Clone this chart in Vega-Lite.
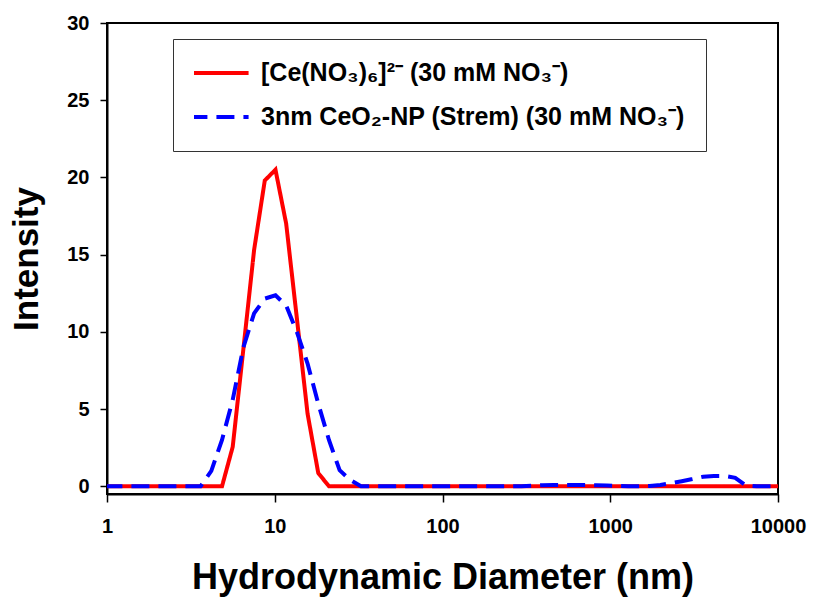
{
  "$schema": "https://vega.github.io/schema/vega-lite/v6.json",
  "width": 671,
  "height": 471,
  "autosize": {"type": "none"},
  "padding": {"left": 107, "top": 23, "right": 36, "bottom": 105},
  "background": "white",
  "config": {
    "font": "Liberation Sans",
    "view": {"stroke": "black", "strokeWidth": 2}
  },
  "datasets": {
    "ce": [
      {"d": 0.9649, "v": 0}, {"d": 1.117, "v": 0}, {"d": 1.294, "v": 0}, {"d": 1.499, "v": 0},
      {"d": 1.736, "v": 0}, {"d": 2.01, "v": 0}, {"d": 2.328, "v": 0}, {"d": 2.696, "v": 0},
      {"d": 3.122, "v": 0}, {"d": 3.615, "v": 0}, {"d": 4.187, "v": 0}, {"d": 4.849, "v": 0},
      {"d": 5.615, "v": 2.55}, {"d": 6.503, "v": 8.9}, {"d": 7.531, "v": 15.3}, {"d": 8.721, "v": 19.8},
      {"d": 10.1, "v": 20.5}, {"d": 11.7, "v": 17.0}, {"d": 13.54, "v": 10.9}, {"d": 15.69, "v": 4.7},
      {"d": 18.17, "v": 0.86}, {"d": 21.04, "v": 0}, {"d": 24.36, "v": 0}, {"d": 28.21, "v": 0},
      {"d": 32.67, "v": 0}, {"d": 37.84, "v": 0}, {"d": 43.82, "v": 0}, {"d": 50.75, "v": 0},
      {"d": 58.77, "v": 0}, {"d": 68.06, "v": 0}, {"d": 78.82, "v": 0}, {"d": 91.28, "v": 0},
      {"d": 105.7, "v": 0}, {"d": 122.4, "v": 0}, {"d": 141.8, "v": 0}, {"d": 164.2, "v": 0},
      {"d": 190.1, "v": 0}, {"d": 220.2, "v": 0}, {"d": 255, "v": 0}, {"d": 295.3, "v": 0},
      {"d": 342, "v": 0}, {"d": 396.1, "v": 0}, {"d": 458.7, "v": 0}, {"d": 531.2, "v": 0},
      {"d": 615.1, "v": 0}, {"d": 712.4, "v": 0}, {"d": 825, "v": 0}, {"d": 955.4, "v": 0},
      {"d": 1106, "v": 0}, {"d": 1281, "v": 0}, {"d": 1484, "v": 0}, {"d": 1718, "v": 0},
      {"d": 1990, "v": 0}, {"d": 2305, "v": 0}, {"d": 2669, "v": 0}, {"d": 3091, "v": 0},
      {"d": 3580, "v": 0}, {"d": 4145, "v": 0}, {"d": 4801, "v": 0}, {"d": 5560, "v": 0},
      {"d": 6439, "v": 0}, {"d": 7456, "v": 0}, {"d": 8635, "v": 0}, {"d": 10000, "v": 0}
    ],
    "np": [
      {"d": 0.9649, "v": 0}, {"d": 1.117, "v": 0}, {"d": 1.294, "v": 0}, {"d": 1.499, "v": 0},
      {"d": 1.736, "v": 0}, {"d": 2.01, "v": 0}, {"d": 2.328, "v": 0}, {"d": 2.696, "v": 0},
      {"d": 3.122, "v": 0}, {"d": 3.615, "v": 0}, {"d": 4.187, "v": 1.0}, {"d": 4.849, "v": 3.0},
      {"d": 5.615, "v": 5.6}, {"d": 6.503, "v": 9.0}, {"d": 7.531, "v": 11.2}, {"d": 8.721, "v": 12.15},
      {"d": 10.1, "v": 12.37}, {"d": 11.7, "v": 11.7}, {"d": 13.54, "v": 10.0}, {"d": 15.69, "v": 7.95},
      {"d": 18.17, "v": 5.35}, {"d": 21.04, "v": 3.0}, {"d": 24.36, "v": 1.04}, {"d": 28.21, "v": 0.4},
      {"d": 32.67, "v": 0}, {"d": 37.84, "v": 0}, {"d": 43.82, "v": 0}, {"d": 50.75, "v": 0},
      {"d": 58.77, "v": 0}, {"d": 68.06, "v": 0}, {"d": 78.82, "v": 0}, {"d": 91.28, "v": 0},
      {"d": 105.7, "v": 0}, {"d": 122.4, "v": 0}, {"d": 141.8, "v": 0}, {"d": 164.2, "v": 0},
      {"d": 190.1, "v": 0}, {"d": 220.2, "v": 0}, {"d": 255, "v": 0}, {"d": 295.3, "v": 0},
      {"d": 342, "v": 0.03}, {"d": 396.1, "v": 0.07}, {"d": 458.7, "v": 0.08}, {"d": 531.2, "v": 0.08},
      {"d": 615.1, "v": 0.08}, {"d": 712.4, "v": 0.08}, {"d": 825, "v": 0.07}, {"d": 955.4, "v": 0.05},
      {"d": 1106, "v": 0.02}, {"d": 1281, "v": 0}, {"d": 1484, "v": 0}, {"d": 1718, "v": 0.02},
      {"d": 1990, "v": 0.08}, {"d": 2305, "v": 0.2}, {"d": 2669, "v": 0.33}, {"d": 3091, "v": 0.47},
      {"d": 3580, "v": 0.62}, {"d": 4145, "v": 0.67}, {"d": 4801, "v": 0.67}, {"d": 5560, "v": 0.55},
      {"d": 6439, "v": 0.05}, {"d": 7456, "v": 0}, {"d": 8635, "v": 0}, {"d": 10000, "v": 0}
    ]
  },
  "layer": [
    {
      "data": {"name": "ce"},
      "transform": [{"calculate": "'A'", "as": "s"}],
      "mark": {"type": "line", "clip": true, "strokeWidth": 4, "color": "#ff0000"},
      "encoding": {
        "x": {
          "field": "d", "type": "quantitative",
          "scale": {"type": "log", "domain": [1, 10000], "nice": false},
          "axis": {
            "values": [1, 10, 100, 1000, 10000], "format": "d",
            "title": "Hydrodynamic Diameter (nm)",
            "titleFontSize": 36, "titleFontWeight": "bold", "titleColor": "black", "titlePadding": 24,
            "labelFontSize": 20, "labelFontWeight": "bold", "labelColor": "black", "labelPadding": 14,
            "domainColor": "black", "domainWidth": 2, "tickColor": "black", "tickWidth": 1.5, "tickSize": 8,
            "grid": false, "labelFlush": false
          }
        },
        "y": {
          "field": "v", "type": "quantitative",
          "scale": {"domain": [-0.5, 30], "nice": false, "zero": false},
          "axis": {
            "values": [0, 5, 10, 15, 20, 25, 30],
            "title": "Intensity",
            "titleFontSize": 35, "titleFontWeight": "bold", "titleColor": "black", "titlePadding": 22,
            "labelFontSize": 20, "labelFontWeight": "bold", "labelColor": "black", "labelPadding": 11,
            "domainColor": "black", "domainWidth": 2, "tickColor": "black", "tickWidth": 1.5, "tickSize": 7,
            "grid": false
          }
        },
        "color": {
          "field": "s", "type": "nominal",
          "scale": {"domain": ["A", "B"], "range": ["#ff0000", "#0000ff"]},
          "legend": {
            "orient": "none", "legendX": 66, "legendY": 16,
            "title": null,
            "labelExpr": "datum.label == 'A' ? '[Ce(NO₃)₆]²⁻  (30 mM NO₃⁻)' : '3nm CeO₂-NP (Strem) (30 mM NO₃⁻)'",
            "labelFontSize": 25, "labelFontWeight": "bold", "labelColor": "black", "labelLimit": 700,
            "labelOffset": 10, "symbolOffset": -7,
            "symbolType": "stroke", "symbolSize": 3500, "symbolStrokeWidth": 4,
            "clipHeight": 26,
            "strokeColor": "#333333", "padding": 21, "rowPadding": 18
          }
        },
        "strokeDash": {
          "field": "s", "type": "nominal",
          "scale": {"domain": ["A", "B"], "range": [[1, 0], [18, 9]]},
          "legend": {
            "orient": "none", "legendX": 66, "legendY": 16,
            "title": null,
            "labelExpr": "datum.label == 'A' ? '[Ce(NO₃)₆]²⁻  (30 mM NO₃⁻)' : '3nm CeO₂-NP (Strem) (30 mM NO₃⁻)'",
            "labelFontSize": 25, "labelFontWeight": "bold", "labelColor": "black", "labelLimit": 700,
            "labelOffset": 10, "symbolOffset": -7,
            "symbolType": "stroke", "symbolSize": 3500, "symbolStrokeWidth": 4,
            "clipHeight": 26,
            "strokeColor": "#333333", "padding": 21, "rowPadding": 18
          }
        }
      }
    },
    {
      "data": {"name": "np"},
      "transform": [{"calculate": "'B'", "as": "s"}],
      "mark": {"type": "line", "clip": true, "strokeWidth": 4},
      "encoding": {
        "x": {"field": "d", "type": "quantitative"},
        "y": {"field": "v", "type": "quantitative"},
        "color": {"field": "s", "type": "nominal"},
        "strokeDash": {"field": "s", "type": "nominal"}
      }
    }
  ]
}
